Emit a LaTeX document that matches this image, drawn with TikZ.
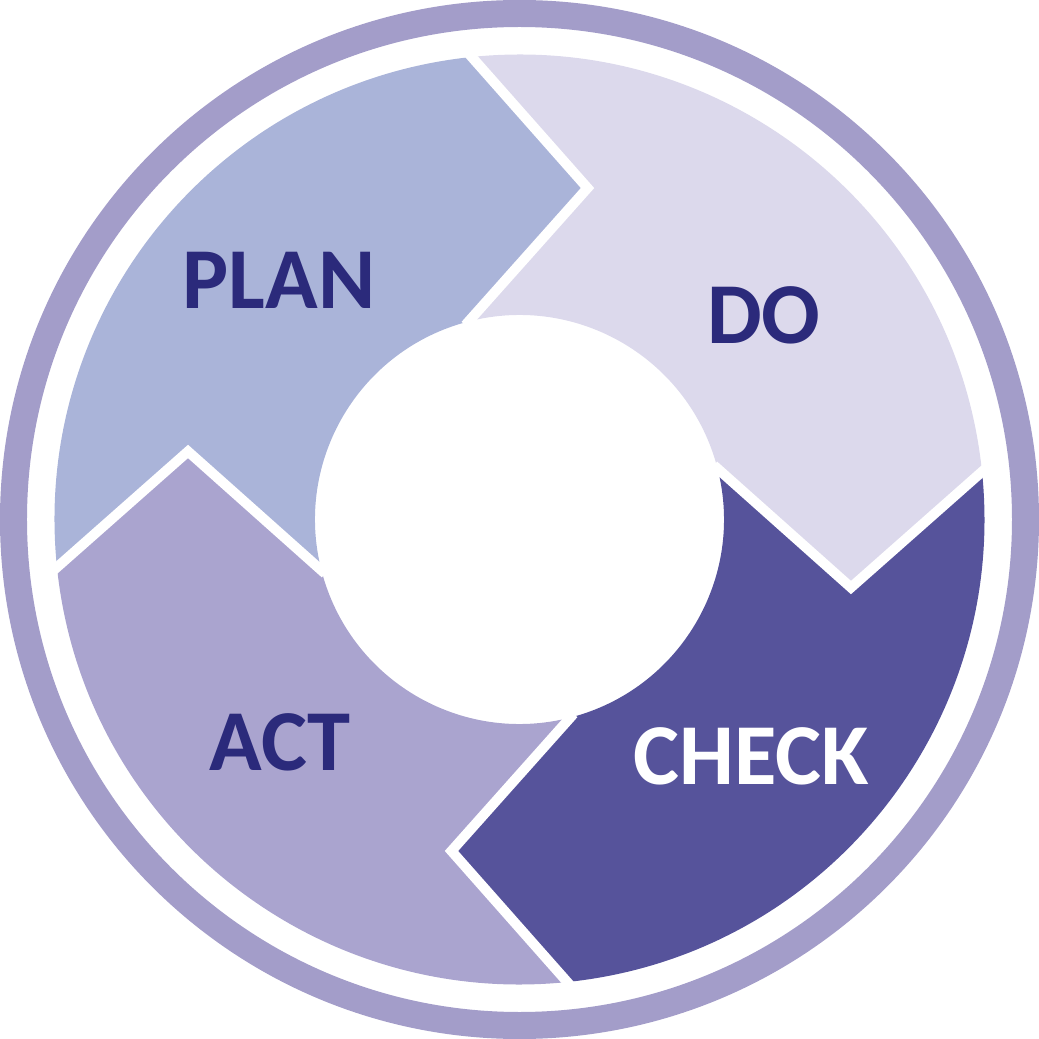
\documentclass[tikz,border=0pt]{standalone}
\usepackage{fontspec}
\setmainfont{Carlito}
\definecolor{ringcol}{HTML}{A39DC9}
\definecolor{plancol}{HTML}{AAB4D9}
\definecolor{docol}{HTML}{DCD9EC}
\definecolor{checkcol}{HTML}{56539B}
\definecolor{actcol}{HTML}{AAA4CF}
\definecolor{navy}{HTML}{2B2A7B}
\begin{document}
\begin{tikzpicture}[
  label/.style={font=\fontsize{24.7}{30}\selectfont\bfseries, inner sep=0pt},
  gap/.style={white, line width=0.1cm, line join=miter, line cap=rect}
]
\useasboundingbox (-5.195,-5.195) rectangle (5.195,5.195);
% outer ring
\draw[ringcol, line width=0.27cm] (0,0) circle (5.06);
% segments
\fill[plancol] (95.9:4.65) arc[start angle=95.9, end angle=185.9, radius=4.65]
  -- (168.4:3.384) -- (194.4:2.045) arc[start angle=194.4, end angle=104.4, radius=2.045]
  -- (78.4:3.384) -- cycle;
\fill[docol] (5.9:4.65) arc[start angle=5.9, end angle=95.9, radius=4.65]
  -- (78.4:3.384) -- (104.4:2.045) arc[start angle=104.4, end angle=14.4, radius=2.045]
  -- (-11.6:3.384) -- cycle;
\fill[checkcol] (-84.1:4.65) arc[start angle=-84.1, end angle=5.9, radius=4.65]
  -- (-11.6:3.384) -- (14.4:2.045) arc[start angle=14.4, end angle=-75.6, radius=2.045]
  -- (-101.6:3.384) -- cycle;
\fill[actcol] (-174.1:4.65) arc[start angle=-174.1, end angle=-84.1, radius=4.65]
  -- (-101.6:3.384) -- (-75.6:2.045) arc[start angle=-75.6, end angle=-165.6, radius=2.045]
  -- (-191.6:3.384) -- cycle;
% white gaps
\draw[gap] (95.9:4.65) -- (78.4:3.384) -- (104.4:2.045);
\draw[gap] (5.9:4.65) -- (-11.6:3.384) -- (14.4:2.045);
\draw[gap] (-84.1:4.65) -- (-101.6:3.384) -- (-75.6:2.045);
\draw[gap] (-174.1:4.65) -- (-191.6:3.384) -- (-165.6:2.045);
% labels
\node[label, text=navy] (plan) at (-2.405,2.39) {PLAN};
\node[label, text=navy] (do) at (2.445,2.045) {DO};
\node[label, text=white] (check) at (2.315,-2.365) {CHECK};
\node[label, text=navy] (act) at (-2.395,-2.225) {ACT};
\end{tikzpicture}
\end{document}
